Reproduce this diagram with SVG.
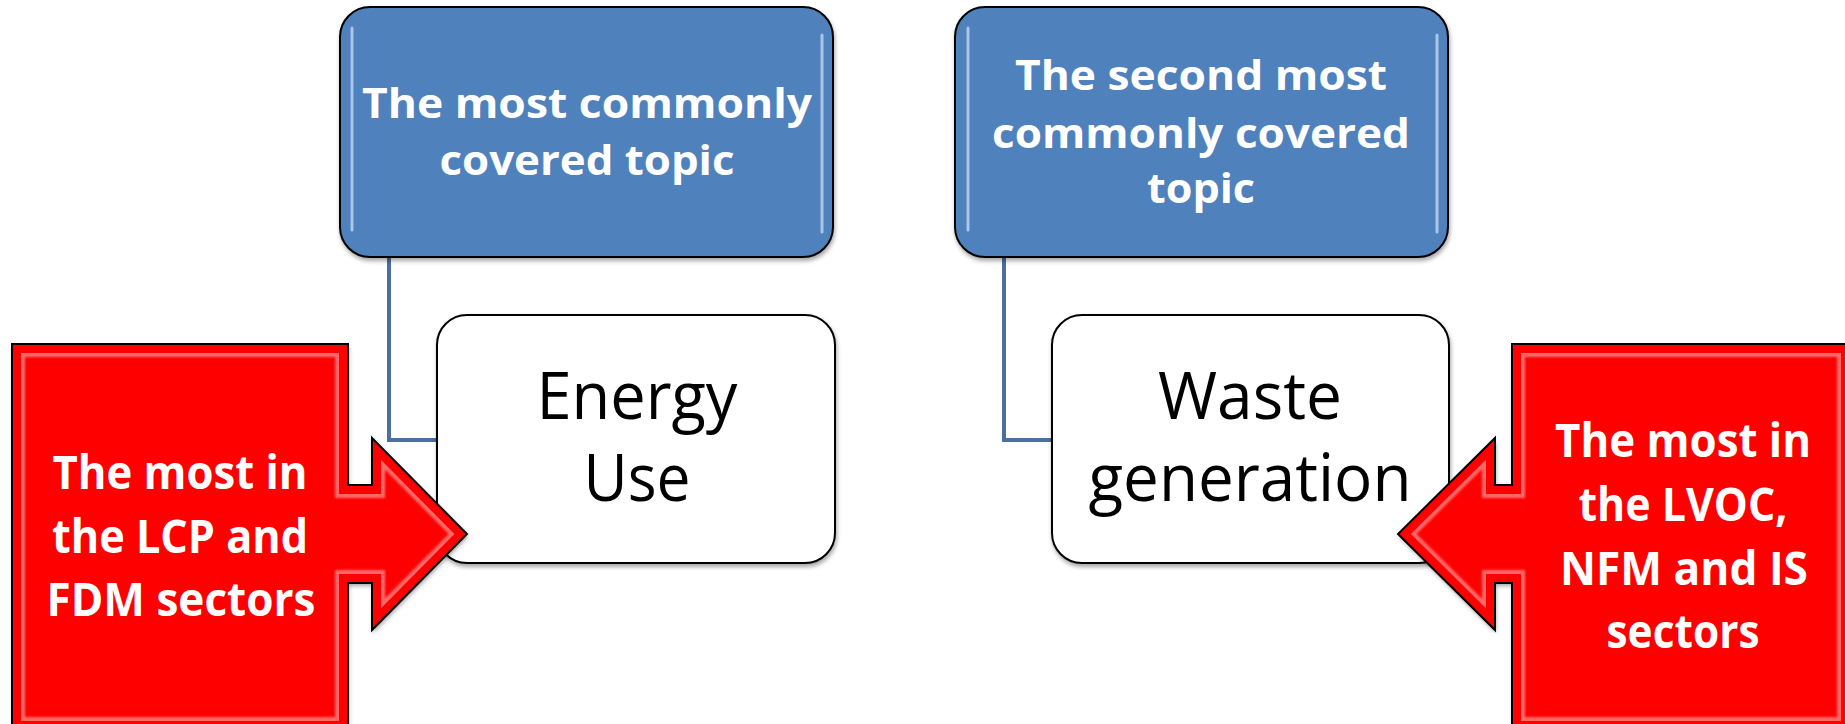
<svg xmlns="http://www.w3.org/2000/svg" width="1845" height="724" viewBox="0 0 1845 724">
<style>
.blue{fill:#4f81bd;stroke:#000;stroke-width:2}
.white{fill:#fff;stroke:#000;stroke-width:2}
.red{fill:#ff0000}
.redo{fill:none;stroke:#000;stroke-width:2;stroke-linejoin:miter}
.hl{stroke:#b9d2f0;stroke-width:3;stroke-linecap:round;opacity:.85}
.conn{fill:none;stroke:#4a6fa0;stroke-width:4}
.tb{font-family:'Open Sans','Liberation Sans',sans-serif;font-weight:bold;font-size:46px;fill:#fff;text-anchor:middle}
.tbb{font-family:'Open Sans','Liberation Sans',sans-serif;font-weight:bold;font-size:41px;fill:#fff;text-anchor:middle}
.tr{font-family:'Open Sans','Liberation Sans',sans-serif;font-size:66px;fill:#000;text-anchor:middle}
</style>
<defs>
<filter id="sh" x="-10%" y="-10%" width="120%" height="125%">
<feDropShadow dx="1" dy="3" stdDeviation="2" flood-color="#000" flood-opacity="0.35"/>
</filter>
<filter id="bl"><feGaussianBlur stdDeviation="1.2"/></filter>
<path id="arL" d="M12,344 H348 V485 H372 V438 L467,534 L372,630 V583 H348 V730 H12 Z"/>
<path id="arR" d="M1512,344 H1850 V730 H1512 V583 H1495 V630 L1398,534 L1495,438 V485 H1512 Z"/>
<clipPath id="cL"><use href="#arL"/></clipPath>
<clipPath id="cR"><use href="#arR"/></clipPath>
</defs>
<rect width="1845" height="724" fill="#fff"/>

<g id="connectors">
<path class="conn" d="M389,257 V440 H437"/>
<path class="conn" d="M1004,257 V440 H1052"/>
</g>

<g id="topic1">
<rect class="blue" x="340" y="7" width="493" height="250" rx="30" filter="url(#sh)"/>
<line class="hl" x1="352" y1="28" x2="352" y2="230"/>
<line class="hl" x1="822" y1="35" x2="822" y2="232"/>
<text class="tbb" x="587" y="118" textLength="450" lengthAdjust="spacingAndGlyphs">The most commonly</text>
<text class="tbb" x="587" y="175" textLength="295" lengthAdjust="spacingAndGlyphs">covered topic</text>
</g>

<g id="topic2">
<rect class="blue" x="955" y="7" width="493" height="250" rx="30" filter="url(#sh)"/>
<line class="hl" x1="968" y1="28" x2="968" y2="230"/>
<line class="hl" x1="1437" y1="35" x2="1437" y2="232"/>
<text class="tbb" x="1201" y="90" textLength="372" lengthAdjust="spacingAndGlyphs">The second most</text>
<text class="tbb" x="1201" y="148" textLength="418" lengthAdjust="spacingAndGlyphs">commonly covered</text>
<text class="tbb" x="1201" y="203" textLength="108" lengthAdjust="spacingAndGlyphs">topic</text>
</g>

<g id="energy">
<rect class="white" x="437" y="315" width="398" height="248" rx="30" filter="url(#sh)"/>
<text class="tr" x="637" y="418.5" textLength="201" lengthAdjust="spacingAndGlyphs">Energy</text>
<text class="tr" x="637" y="501" textLength="107" lengthAdjust="spacingAndGlyphs">Use</text>
</g>

<g id="waste">
<rect class="white" x="1052" y="315" width="397" height="248" rx="30" filter="url(#sh)"/>
<text class="tr" x="1250" y="418.5" textLength="184" lengthAdjust="spacingAndGlyphs">Waste</text>
<text class="tr" x="1250" y="501" textLength="323" lengthAdjust="spacingAndGlyphs">generation</text>
</g>

<g id="lcp">
<use href="#arL" class="red" filter="url(#sh)"/>
<g clip-path="url(#cL)">
<use href="#arL" fill="none" stroke="#ffd0d0" stroke-width="26" opacity="0.5" filter="url(#bl)"/>
<use href="#arL" fill="none" stroke="#ff0000" stroke-width="18"/>
</g>
<use href="#arL" class="redo"/>
<text class="tb" x="180" y="489" textLength="255" lengthAdjust="spacingAndGlyphs">The most in</text>
<text class="tb" x="180" y="553" textLength="256" lengthAdjust="spacingAndGlyphs">the LCP and</text>
<text class="tb" x="181" y="616" textLength="269" lengthAdjust="spacingAndGlyphs">FDM sectors</text>
</g>

<g id="lvoc">
<use href="#arR" class="red" filter="url(#sh)"/>
<g clip-path="url(#cR)">
<use href="#arR" fill="none" stroke="#ffd0d0" stroke-width="26" opacity="0.5" filter="url(#bl)"/>
<use href="#arR" fill="none" stroke="#ff0000" stroke-width="18"/>
</g>
<use href="#arR" class="redo"/>
<text class="tb" x="1683" y="457" textLength="256" lengthAdjust="spacingAndGlyphs">The most in</text>
<text class="tb" x="1683" y="521" textLength="209" lengthAdjust="spacingAndGlyphs">the LVOC,</text>
<text class="tb" x="1684" y="585" textLength="248" lengthAdjust="spacingAndGlyphs">NFM and IS</text>
<text class="tb" x="1683" y="648" textLength="153" lengthAdjust="spacingAndGlyphs">sectors</text>
</g>
</svg>
